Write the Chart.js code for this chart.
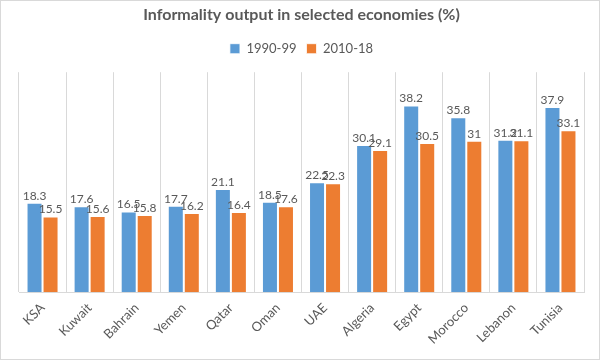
<!DOCTYPE html>
<html>
<head>
<meta charset="utf-8">
<script src="https://cdn.jsdelivr.net/npm/chart.js@4"></script>
<style>
  html, body { margin: 0; padding: 0; background: #fff; }
  #wrap { width: 598px; height: 358px; border: 1px solid #d9d9d9; }
</style>
</head>
<body>
<div id="wrap"><canvas id="informality"></canvas></div>
<script>
// values
var countries = ["KSA", "Kuwait", "Bahrain", "Yemen", "Qatar", "Oman", "UAE", "Algeria", "Egypt", "Morocco", "Lebanon", "Tunisia"];
var period1990 = [18.3, 17.6, 16.5, 17.7, 21.1, 18.5, 22.5, 30.1, 38.2, 35.8, 31.2, 37.9];
var period2010 = [15.5, 15.6, 15.8, 16.2, 16.4, 17.6, 22.3, 29.1, 30.5, 31, 31.1, 33.1];

var textColor = "#595959";
var fontName = "Lato, 'Open Sans', sans-serif";

// draw the value above each bar
var barLabels = {
  id: "barLabels",
  afterDatasetsDraw: function (chart) {
    var ctx = chart.ctx;
    ctx.save();
    ctx.font = "12px " + fontName;
    ctx.fillStyle = textColor;
    ctx.textAlign = "center";
    ctx.textBaseline = "bottom";
    chart.data.datasets.forEach(function (ds, i) {
      chart.getDatasetMeta(i).data.forEach(function (bar, j) {
        ctx.fillText(String(ds.data[j]), bar.x, bar.y - 1);
      });
    });
    ctx.restore();
  },
};

// a bit more room under the legend
var legendGap = {
  id: "legendGap",
  beforeInit: function (chart) {
    var fit = chart.legend.fit;
    chart.legend.fit = function () {
      fit.bind(chart.legend)();
      this.height += 7;
    };
  },
};

var config = {
  type: "bar",
  data: {
    labels: countries,
    datasets: [
      {
        label: "1990-99",
        data: period1990,
        backgroundColor: "#5B9BD5",
        borderColor: "#ffffff",
        borderWidth: { left: 1, right: 1, top: 1, bottom: 0 },
        barPercentage: 1,
        categoryPercentage: 0.68,
      },
      {
        label: "2010-18",
        data: period2010,
        backgroundColor: "#ED7D31",
        borderColor: "#ffffff",
        borderWidth: { left: 1, right: 1, top: 1, bottom: 0 },
        barPercentage: 1,
        categoryPercentage: 0.68,
      },
    ],
  },
  options: {
    responsive: true,
    maintainAspectRatio: false,
    animation: false,
    layout: {
      padding: { left: 18, right: 15, top: 2, bottom: 4 },
    },
    plugins: {
      title: {
        display: true,
        text: "Informality output in selected economies (%)",
        color: textColor,
        font: { family: fontName, size: 16, weight: "bold" },
        padding: { top: 2, bottom: 8 },
      },
      legend: {
        position: "top",
        labels: {
          color: textColor,
          font: { family: fontName, size: 13 },
          boxWidth: 10,
          boxHeight: 10,
          padding: 10,
        },
      },
      tooltip: { enabled: false },
    },
    scales: {
      y: {
        display: false,
        min: 0,
        max: 45,
      },
      x: {
        grid: {
          display: true,
          color: "#d9d9d9",
          drawTicks: false,
        },
        border: { display: true, color: "#d9d9d9" },
        ticks: {
          color: textColor,
          font: { family: fontName, size: 13 },
          maxRotation: 45,
          minRotation: 45,
          padding: 8,
        },
      },
    },
  },
  plugins: [barLabels, legendGap],
};

new Chart(document.getElementById("informality").getContext("2d"), config);
</script>
</body>
</html>
